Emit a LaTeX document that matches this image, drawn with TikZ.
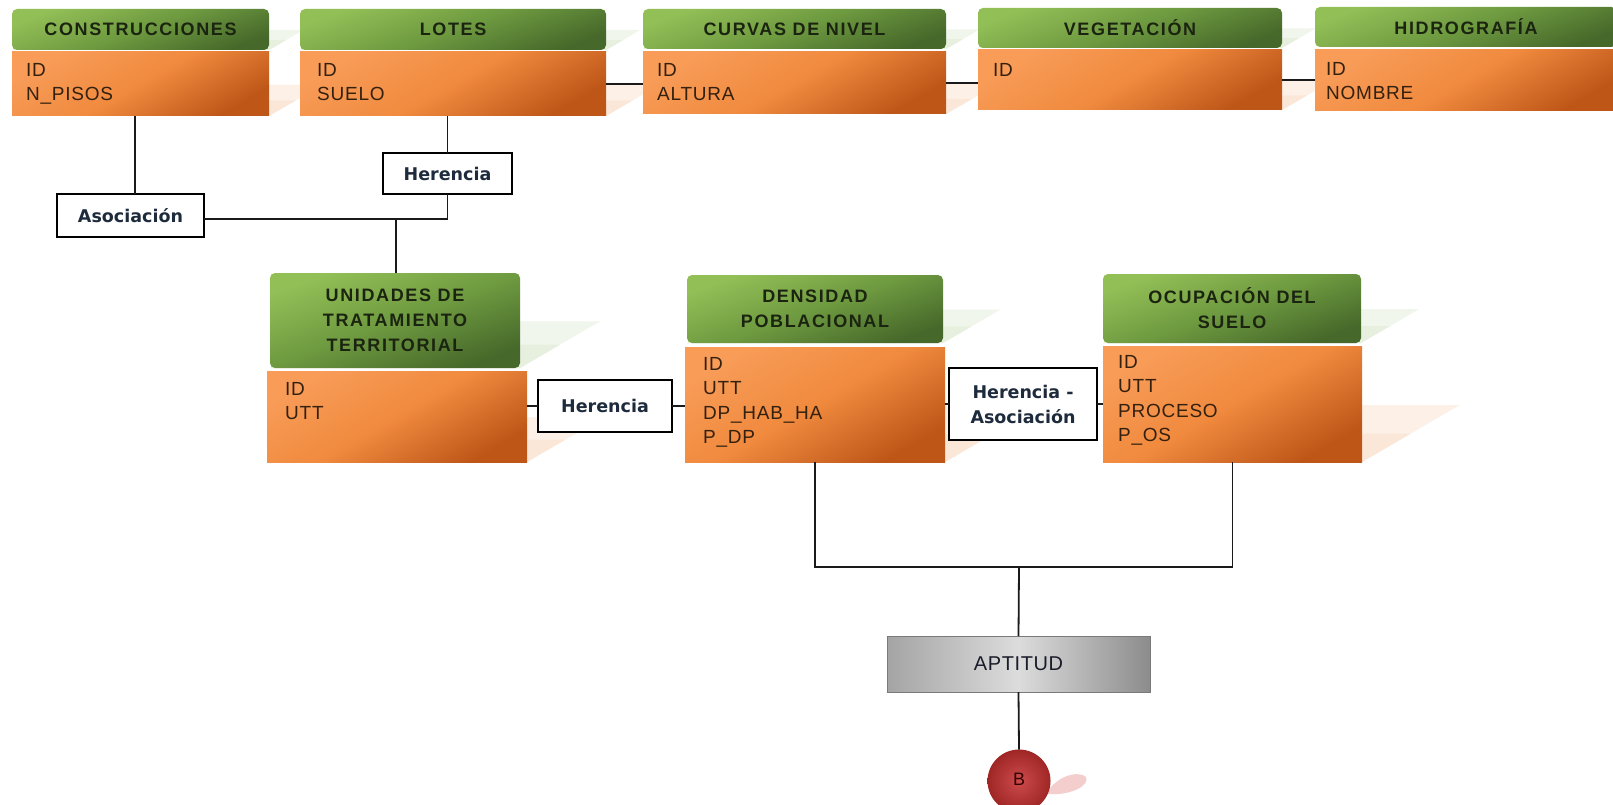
\documentclass[tikz,border=0pt]{standalone}
\usepackage{fontspec}
\setmainfont{Liberation Sans}
\newfontfamily\hdrfont[LetterSpace=9]{Liberation Sans}
\newfontfamily\fldfont[LetterSpace=4]{Liberation Sans}
\newfontfamily\relfont{DejaVu Sans}
\newfontfamily\aptfont[LetterSpace=3]{Liberation Sans}

\definecolor{hdrA}{HTML}{93BF57}
\definecolor{hdrM}{HTML}{6E9A40}
\definecolor{hdrB}{HTML}{46682A}
\definecolor{bdyA}{HTML}{F89C58}
\definecolor{bdyM}{HTML}{F08A3E}
\definecolor{bdyB}{HTML}{BE5618}
\definecolor{hdrtxt}{HTML}{1B2410}
\definecolor{fldtxt}{HTML}{33200E}
\definecolor{reltxt}{HTML}{1E2B3C}
\definecolor{shgreen}{HTML}{F1F6EC}
\definecolor{shgreenB}{HTML}{E7F0DE}
\definecolor{shorange}{HTML}{FDF1E7}
\definecolor{shorangeB}{HTML}{FBE7D8}
\definecolor{shpink}{HTML}{F4CDCD}
\definecolor{linkcol}{HTML}{1A1A1A}
\definecolor{aptL}{HTML}{A4A4A4}
\definecolor{aptM}{HTML}{DCDCDC}
\definecolor{aptR}{HTML}{8C8C8C}
\definecolor{aptline}{HTML}{7A7A7A}
\definecolor{apttxt}{HTML}{1A1C2A}
\definecolor{ballin}{HTML}{CC4B4B}
\definecolor{ballout}{HTML}{A02626}

% perspective shadow cast up and to the right of a box:
% x0, y0, x1, y1, faint colour, stronger colour near the base
\newcommand{\perspshadow}[6]{%
  \pgfmathsetmacro{\psH}{#4-#2}%
  \fill[#5]
    (#1,#4) -- (#3,#4) -- ({#3+0.84*\psH},{#4-0.49*\psH})
    -- ({#1+0.84*\psH},{#4-0.49*\psH}) -- cycle;
  \fill[#6]
    (#1,#4) -- (#3,#4) -- ({#3+0.42*\psH},{#4-0.245*\psH})
    -- ({#1+0.42*\psH},{#4-0.245*\psH}) -- cycle;}

\begin{document}
\begin{tikzpicture}[x=1pt,y=-1pt,
  hdr/.style={rounded corners=5pt, top color=hdrA, bottom color=hdrB,
    middle color=hdrM, shading angle=20, inner sep=0pt, outer sep=0pt,
    anchor=north west, align=center, text=hdrtxt,
    font=\hdrfont\bfseries\fontsize{18}{25}\selectfont},
  bdy/.style={top color=bdyA, bottom color=bdyB, middle color=bdyM,
    shading angle=30, inner sep=0pt, outer sep=0pt, anchor=north west},
  fld/.style={anchor=north west, align=left, inner sep=0pt, text=fldtxt,
    font=\fldfont\fontsize{19}{24.5}\selectfont},
  rel/.style={draw=black, line width=1.6pt, fill=white, inner sep=0pt,
    outer sep=0pt, anchor=north west, align=center, text=reltxt,
    font=\relfont\bfseries\fontsize{17.5}{25}\selectfont},
  link/.style={draw=linkcol, line width=1.8pt}]

\useasboundingbox (0,0) rectangle (1613,805);
\fill[white] (0,0) rectangle (1613,805);
\clip (0,0) rectangle (1613,805);

% shadows
\perspshadow{12}{9}{269}{50}{shgreen}{shgreenB}
\perspshadow{12}{52}{269}{116}{shorange}{shorangeB}
\perspshadow{300}{9}{606}{50}{shgreen}{shgreenB}
\perspshadow{300}{52}{606}{116}{shorange}{shorangeB}
\perspshadow{643}{9}{946}{49}{shgreen}{shgreenB}
\perspshadow{643}{52}{946}{114}{shorange}{shorangeB}
\perspshadow{978}{8}{1282}{48}{shgreen}{shgreenB}
\perspshadow{978}{50}{1282}{110}{shorange}{shorangeB}
\perspshadow{270}{273}{520}{368}{shgreen}{shgreenB}
\perspshadow{267}{371}{527}{462}{shorange}{shorangeB}
\perspshadow{687}{275}{943}{343}{shgreen}{shgreenB}
\perspshadow{685}{347}{945}{462}{shorange}{shorangeB}
\perspshadow{1103}{274}{1361}{343}{shgreen}{shgreenB}
\perspshadow{1103}{346}{1362}{462}{shorange}{shorangeB}
\fill[shpink] (1046,794) .. controls (1056,776) and (1078,770) .. (1086,777)
  .. controls (1090,785) and (1072,796) .. (1046,794) -- cycle;

% top row of tables
\node[hdr, minimum width=257pt, minimum height=41pt] (chdr) at (12,9) {CONSTRUCCIONES};
\node[bdy, minimum width=257pt, minimum height=64pt] (cbody) at (12,52) {};
\node[fld] (cfld) at (26,63) {ID\\N\_PISOS};

\node[hdr, minimum width=306pt, minimum height=41pt] (lhdr) at (300,9) {LOTES};
\node[bdy, minimum width=306pt, minimum height=64pt] (lbody) at (300,52) {};
\node[fld] (lfld) at (317,63) {ID\\SUELO};

\node[hdr, minimum width=303pt, minimum height=40pt] (cvhdr) at (643,9) {CURVAS DE NIVEL};
\node[bdy, minimum width=303pt, minimum height=62pt] (cvbody) at (643,52) {};
\node[fld] (cvfld) at (657,63) {ID\\ALTURA};

\node[hdr, minimum width=304pt, minimum height=40pt] (vghdr) at (978,8) {VEGETACIÓN};
\node[bdy, minimum width=304pt, minimum height=60pt] (vgbody) at (978,50) {};
\node[fld] (vgfld) at (993,63) {ID};

\node[hdr, minimum width=302pt, minimum height=40pt] (hhdr) at (1315,7) {HIDROGRAFÍA};
\node[bdy, minimum width=302pt, minimum height=61pt] (hbody) at (1315,50) {};
\node[fld] (hfld) at (1326,62) {ID\\NOMBRE};

% middle row of tables
\node[hdr, minimum width=250pt, minimum height=95pt] (uhdr) at (270,273)
  {UNIDADES DE\\TRATAMIENTO\\TERRITORIAL};
\node[bdy, minimum width=260pt, minimum height=91pt] (ubody) at (267,371) {};
\node[fld] (ufld) at (285,382) {ID\\UTT};

\node[hdr, minimum width=256pt, minimum height=68pt] (dhdr) at (687,275)
  {DENSIDAD\\POBLACIONAL};
\node[bdy, minimum width=260pt, minimum height=115pt] (dbody) at (685,347) {};
\node[fld] (dfld) at (703,357) {ID\\UTT\\DP\_HAB\_HA\\P\_DP};

\node[hdr, minimum width=258pt, minimum height=69pt] (ohdr) at (1103,274)
  {OCUPACIÓN DEL\\SUELO};
\node[bdy, minimum width=259pt, minimum height=116pt] (obody) at (1103,346) {};
\node[fld] (ofld) at (1118,355) {ID\\UTT\\PROCESO\\P\_OS};

% relation labels
\node[rel, minimum width=147pt, minimum height=43pt] (asoc) at (57,194) {Asociación};
\node[rel, minimum width=129pt, minimum height=41pt] (her1) at (383,153) {Herencia};
\node[rel, minimum width=134pt, minimum height=52pt] (her2) at (538,380) {Herencia};
\node[rel, minimum width=148pt, minimum height=72pt] (her3) at (949,368)
  {Herencia -\\Asociación};

% result
\node[draw=aptline, line width=0.8pt, left color=aptL, right color=aptR,
  middle color=aptM, inner sep=0pt, outer sep=0pt, anchor=north west,
  minimum width=263pt, minimum height=56pt, text=apttxt,
  font=\aptfont\fontsize{20}{24}\selectfont] (apt) at (887,636) {APTITUD};
\node[circle, shading=radial, inner color=ballin, outer color=ballout,
  minimum size=63pt, inner sep=0pt, outer sep=0pt, text=black!80!red,
  font=\fontsize{18}{20}\selectfont] (ball) at (1019,781) {\raisebox{4pt}{B}};

% connectors
\draw[link] (lbody.east) -- (lbody.east -| cvbody.west);
\draw[link] (cvbody.east) -- (cvbody.east -| vgbody.west);
\draw[link] (vgbody.east) -- (vgbody.east -| hbody.west);
\draw[link] ([xshift=4.5pt]asoc.north) -- ([xshift=4.5pt]asoc.north |- cbody.south);
\draw[link] (her1.north) -- (her1.north |- lbody.south);
\draw[link] (her1.south) |- ([yshift=-3.5pt]asoc.east);
\coordinate (j1) at (396,219);
\draw[link] (j1) -- (j1 |- uhdr.north);
\draw[link] (ubody.east |- her2.west) -- (her2.west);
\draw[link] (her2.east) -- (her2.east -| dbody.west);
\draw[link] (dbody.east |- her3.west) -- (her3.west);
\draw[link] (her3.east) -- (her3.east -| obody.west);
\coordinate (j2) at (1019,567);
\draw[link] (dbody.south) |- (j2) -| (obody.south);
\draw[link] (j2) -- (apt.north);
\draw[link] (apt.south) -- (ball.north);
\end{tikzpicture}
\end{document}
